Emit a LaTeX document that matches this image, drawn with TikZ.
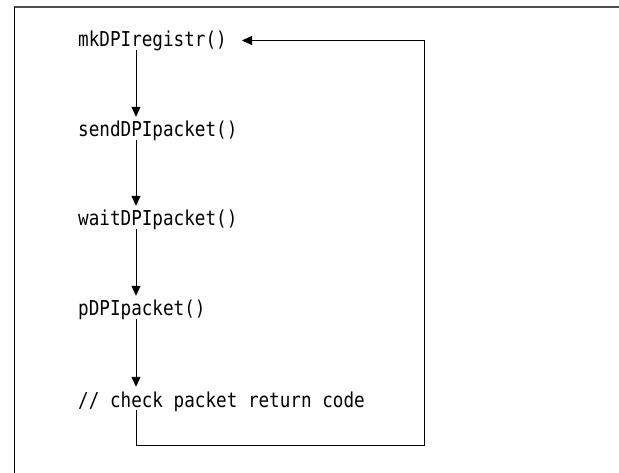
\documentclass[tikz,border=0pt]{standalone}
\usepackage{fontspec}
\setmonofont[FakeStretch=0.86]{DejaVu Sans Mono}
\usetikzlibrary{arrows.meta}
\tikzset{
  call/.style={anchor=base west,inner sep=0pt,text height=16pt,text depth=3pt,
    font=\ttfamily\fontsize{20.5}{22}\selectfont},
  flow/.style={line width=0.9pt,-{Triangle[length=10pt,width=9pt]}}
}
\begin{document}
\begin{tikzpicture}[x=1pt,y=-1pt]
  \useasboundingbox (0,0) rectangle (619,473);
  \draw[line width=1.4pt,black!70] (14,7) -- (619,7);
  \draw[line width=1pt] (14,7) -- (14,473);
  \node[call] (mk) at (78,47) {mkDPIregistr()};
  \node[call] (send) at (78,137) {sendDPIpacket()};
  \node[call] (wait) at (78,226) {waitDPIpacket()};
  \node[call] (proc) at (78,316) {pDPIpacket()};
  \node[call] (check) at (78,407) {// check packet return code};
  \coordinate (spine) at (136,0);
  \coordinate (back) at (424,445);
  \draw[flow,shorten >=4pt] (mk.south -| spine) -- (send.north -| spine);
  \draw[flow,shorten >=4pt] (send.south -| spine) -- (wait.north -| spine);
  \draw[flow,shorten >=4pt] (wait.south -| spine) -- (proc.north -| spine);
  \draw[flow,shorten >=4pt] (proc.south -| spine) -- (check.north -| spine);
  \draw[flow] (check.south -| spine) |- (back) |- ([xshift=15pt]mk.east);
\end{tikzpicture}
\end{document}
